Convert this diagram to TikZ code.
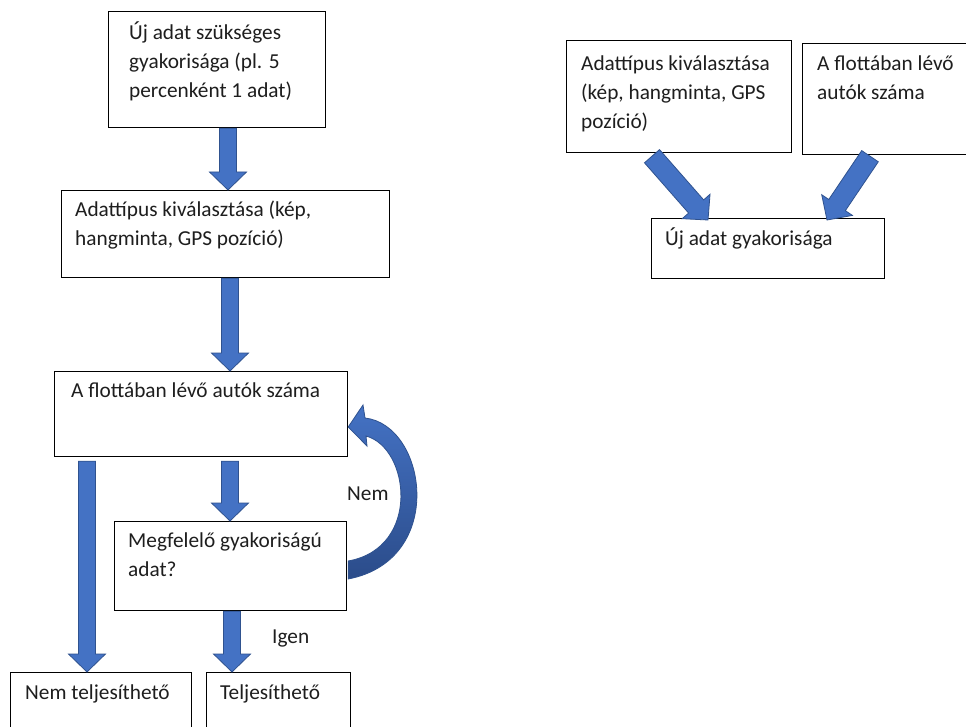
\documentclass[tikz,border=0pt]{standalone}
\usepackage{fontspec}
\setmainfont{Carlito}
\usetikzlibrary{calc}

\definecolor{arrowfill}{HTML}{4472C4}
\definecolor{arrowline}{HTML}{2F528F}
\definecolor{arrowdark}{HTML}{2B4C8A}
\definecolor{ink}{HTML}{1E1E1E}

\tikzset{
  box/.style={draw=black, line width=1.2pt, fill=white, rectangle,
              inner sep=0pt, anchor=north west},
  lbl/.style={inner sep=0pt, anchor=base west, text=ink,
              font=\fontsize{21.3}{29}\selectfont},
  barrow/.style={fill=arrowfill, draw=arrowline, line width=0.8pt, line join=miter},
}

% Block arrow from tail #1 to tip #2; #3 half shaft width, #4 half head width
\newcommand\blockarrow[4]{%
  \coordinate (ba-base) at ($(#2)!18pt!(#1)$);
  \filldraw[barrow] ($(#1)!#3!90:(#2)$) -- ($(ba-base)!#3!90:(#2)$)
    -- ($(ba-base)!#4!90:(#2)$) -- (#2) -- ($(ba-base)!#4!-90:(#2)$)
    -- ($(ba-base)!#3!-90:(#2)$) -- ($(#1)!#3!-90:(#2)$) -- cycle;}

\begin{document}
\begin{tikzpicture}[x=1pt, y=-1pt]
  \useasboundingbox (0,0) rectangle (966,727);
  \fill[white] (0,0) rectangle (966,727);

  % left flow chart boxes
  \node[box, minimum width=217pt, minimum height=116pt] (b1) at (108,11) {};
  \node[box, minimum width=328pt, minimum height=87pt]  (b2) at (61,190) {};
  \node[box, minimum width=293pt, minimum height=85pt]  (b3) at (54,371) {};
  \node[box, minimum width=232pt, minimum height=89pt]  (b4) at (114,521) {};
  \node[box, minimum width=181pt, minimum height=80pt]  (b5) at (10,672) {};
  \node[box, minimum width=144pt, minimum height=80pt]  (b6) at (206,672) {};

  % right side boxes
  \node[box, minimum width=225pt, minimum height=112pt] (b7) at (566,40) {};
  \node[box, minimum width=200pt, minimum height=111pt] (b8) at (802,43) {};
  \node[box, minimum width=233pt, minimum height=60pt]  (b9) at (651,218) {};

  % texts
  \node[lbl] (t1) at (129,40) {\vtop{\hbox{Új adat szükséges}\hbox{gyakorisága (pl. 5}\hbox{percenként 1 adat)}}};
  \node[lbl] (t2) at (75,217) {\vtop{\hbox{Adattípus kiválasztása (kép,}\hbox{hangminta, GPS pozíció)}}};
  \node[lbl] (t3) at (71,397) {A flottában lévő autók száma};
  \node[lbl] (t4) at (128,547) {\vtop{\hbox{Megfelelő gyakoriságú}\hbox{adat?}}};
  \node[lbl] (t5) at (25,699) {Nem teljesíthető};
  \node[lbl] (t6) at (220,699) {Teljesíthető};
  \node[lbl] (t7) at (581,71) {\vtop{\hbox{Adattípus kiválasztása}\hbox{(kép, hangminta, GPS}\hbox{pozíció)}}};
  \node[lbl] (t8) at (817,71) {\vtop{\hbox{A flottában lévő}\hbox{autók száma}}};
  \node[lbl] (t9) at (665,246) {Új adat gyakorisága};
  \node[lbl] (nem) at (347,500) {Nem};
  \node[lbl] (igen) at (272,643) {Igen};

  % connector end points
  \coordinate (a1s) at (b1.south -| 228,0);  \coordinate (a1e) at (b2.north -| 228,0);
  \coordinate (a2s) at (b2.south -| 230,0);  \coordinate (a2e) at (b3.north -| 230,0);
  \coordinate (a3s) at ($(b3.south -| 230,0)+(0,4)$);  \coordinate (a3e) at (b4.north -| 230,0);
  \coordinate (a4s) at ($(b3.south -| 87,0)+(0,4)$);   \coordinate (a4e) at (b5.north -| 87,0);
  \coordinate (a5s) at (b4.south -| 232,0);  \coordinate (a5e) at (b6.north -| 232,0);
  \coordinate (a6s) at ($(b7.south -| 652,0)+(0,3)$);  \coordinate (a6e) at ($(b9.north -| 708,0)+(0,2)$);
  \coordinate (a7s) at ($(b8.south -| 870,0)+(0,1)$);  \coordinate (a7e) at ($(b9.north -| 827,0)+(0,2)$);

  \blockarrow{a1s}{a1e}{8.5pt}{18.5pt}
  \blockarrow{a2s}{a2e}{8.5pt}{18.5pt}
  \blockarrow{a3s}{a3e}{8.5pt}{18.5pt}
  \blockarrow{a4s}{a4e}{8.5pt}{18.5pt}
  \blockarrow{a5s}{a5e}{8.5pt}{18.5pt}
  \blockarrow{a6s}{a6e}{10pt}{18.5pt}
  \blockarrow{a7s}{a7e}{10pt}{18.5pt}

  % curved return arrow from the decision box back to the fleet box
  \coordinate (c-tail) at (b4.east |- 0,570);
  \coordinate (c-tip)  at (b3.east |- 0,427);
  \shade[top color=arrowfill, bottom color=arrowdark, draw=arrowline, line width=0.8pt]
    ($(c-tail)+(1,9)$) .. controls (447,560) and (427,425) .. (365,418)
    -- (363,405) -- (c-tip) -- (367,446) -- (366,436)
    .. controls (410,448) and (421,548) .. ($(c-tail)+(1,-9)$) -- cycle;
\end{tikzpicture}
\end{document}
